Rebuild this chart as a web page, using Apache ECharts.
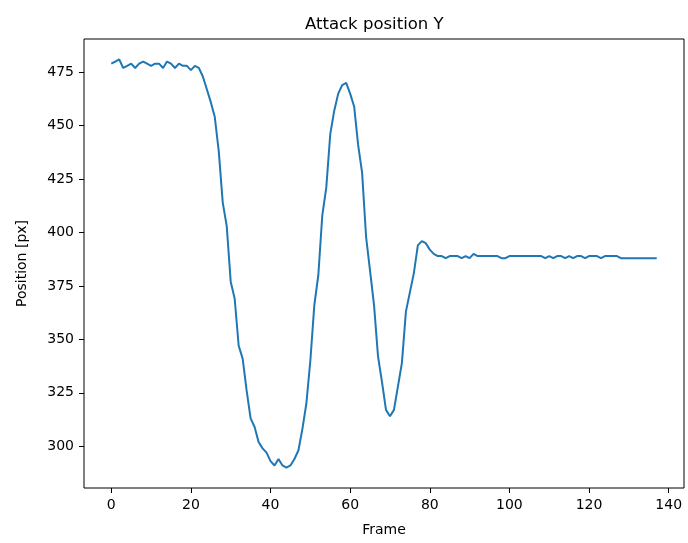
<!DOCTYPE html>
<html>
<head>
<meta charset="utf-8">
<script src="https://cdn.jsdelivr.net/npm/echarts@6/dist/echarts.min.js"></script>
<style>
html,body{margin:0;padding:0;background:#fff;}
#chart{width:688px;height:543px;}
</style>
</head>
<body>
<div id="chart"></div>
<script>
var titleText = 'Attack position Y';
var xAxisName = 'Frame';
var yAxisName = 'Position [px]';
var xTicks = [0, 20, 40, 60, 80, 100, 120, 140];
var yTicks = [300, 325, 350, 375, 400, 425, 450, 475];
var positionY = [
  479,480,481,477,478,479,477,479,480,479,478,479,479,477,480,479,477,479,478,478,476,478,477,
  473,467,461,454,438,414,403,377,369,347,341,326,313,309,302,299,297,293,291,294,291,290,291,294,298,308,320,
  340,366,380,408,421,446,457,465,469,470,465,459,441,428,398,382,366,342,330,317,314,317,328,339,363,372,381,394,396,395,
  392,390,389,389,388,389,389,389,388,389,388,390,389,389,389,389,389,389,388,388,
  389,389,389,389,389,389,389,389,389,
  388,389,388,389,389,388,389,388,389,389,388,389,389,389,388,389,389,389,389,
  388,388,388,388,388,388,388,388,388,388
];

var seriesData = positionY.map(function (v, i) { return [i, v]; });

var font = 'DejaVu Sans';
var chart = echarts.init(document.getElementById('chart'), null, {renderer: 'canvas'});
chart.setOption({
  animation: false,
  backgroundColor: '#fff',
  title: {
    text: titleText,
    left: 300,
    top: 11,
    textStyle: {fontFamily: font, fontSize: 16.5, fontWeight: 'normal', color: '#000'}
  },
  grid: {left: 84, right: 4, top: 39, bottom: 55, show: true, borderColor: '#000', borderWidth: 1, backgroundColor: 'transparent'},
  xAxis: {
    type: 'value',
    min: -6.85,
    max: 143.85,
    name: xAxisName,
    nameLocation: 'middle',
    nameGap: 35,
    nameTextStyle: {fontFamily: font, fontSize: 14, color: '#000'},
    axisLine: {show: false, onZero: false},
    splitLine: {show: false},
    axisTick: {show: true, inside: false, length: 5, customValues: xTicks, lineStyle: {color: '#000', width: 1}},
    axisLabel: {customValues: xTicks, fontFamily: font, fontSize: 14, color: '#000', margin: 10}
  },
  yAxis: {
    type: 'value',
    min: 280.45,
    max: 490.55,
    name: yAxisName,
    nameLocation: 'middle',
    nameGap: 55,
    nameRotate: 90,
    nameTextStyle: {fontFamily: font, fontSize: 14, color: '#000'},
    axisLine: {show: false, onZero: false},
    splitLine: {show: false},
    axisTick: {show: true, inside: false, length: 5, customValues: yTicks, lineStyle: {color: '#000', width: 1}},
    axisLabel: {customValues: yTicks, fontFamily: font, fontSize: 14, color: '#000', margin: 10}
  },
  series: [{
    type: 'line',
    data: seriesData,
    showSymbol: false,
    symbol: 'none',
    lineStyle: {color: '#1f77b4', width: 2},
    itemStyle: {color: '#1f77b4'}
  }]
});
</script>
</body>
</html>
